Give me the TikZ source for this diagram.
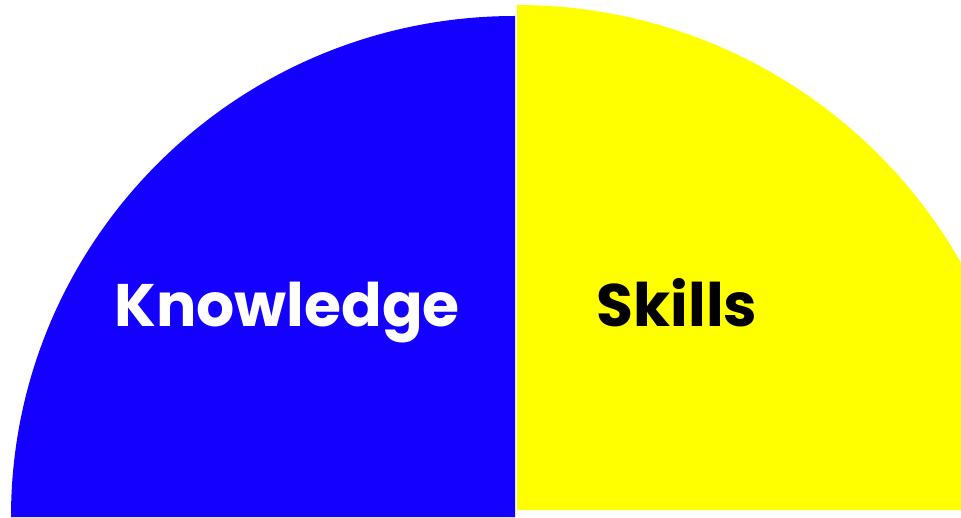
\documentclass[tikz,border=0pt]{standalone}
\usepackage{fontspec}
\setmainfont{Poppins}
\definecolor{kblue}{HTML}{1400FF}
\definecolor{syellow}{HTML}{FFFF00}
\tikzset{
  lbl/.style={anchor=base, inner sep=0pt, font=\fontsize{60}{60}\selectfont\bfseries}
}
\begin{document}
\begin{tikzpicture}[x=1pt,y=1pt]
\useasboundingbox (0,0) rectangle (961,517);
\clip (0,0) rectangle (961,517);
\fill[kblue] (515,0) -- (515,501) arc[start angle=90, end angle=180, x radius=504, y radius=501] -- cycle;
\fill[syellow] (517,7) -- (1026,7) arc[start angle=0, end angle=90, x radius=509, y radius=505] -- cycle;
\node[lbl, text=white] (k) at (287,190) {Knowledge};
\node[lbl, text=black] (s) at (677,190) {Skills};
\end{tikzpicture}
\end{document}
